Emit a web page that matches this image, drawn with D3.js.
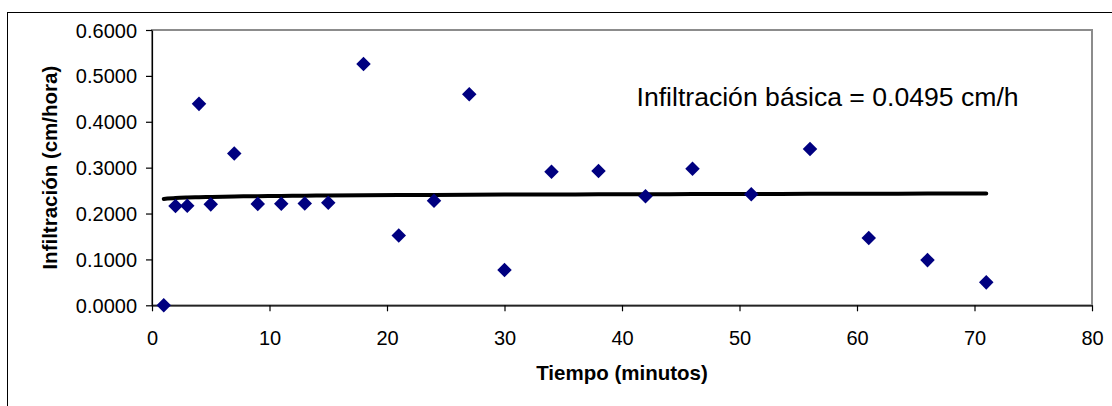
<!DOCTYPE html>
<html>
<head>
<meta charset="utf-8">
<script src="https://cdn.jsdelivr.net/npm/d3@7"></script>
<style>
    body { margin: 0; background: #fff; }
    svg { display: block; font-family: Arial, "Liberation Sans", sans-serif; }
</style>
</head>
<body>
<div class="chart"></div>
<script>
// datos
let tiempo = [1, 2, 3, 4, 5, 7, 9, 11, 13, 15, 18, 21, 24, 27, 30, 34, 38, 42, 46, 51, 56, 61, 66, 71];
let infiltracion = [0.0000, 0.2165, 0.2170, 0.4390, 0.2200, 0.3310, 0.2210, 0.2215, 0.2220, 0.2235,
    0.5260, 0.1520, 0.2280, 0.4600, 0.0770, 0.2910, 0.2925, 0.2375, 0.2975, 0.2420,
    0.3405, 0.1465, 0.0985, 0.0500];
let xTicks = [0, 10, 20, 30, 40, 50, 60, 70, 80];
let yTicks = [0, 0.1, 0.2, 0.3, 0.4, 0.5, 0.6];
// linea de tendencia logaritmica y = a*ln(x) + b
let trendA = 0.00277;
let trendB = 0.2318;
let nota = "Infiltración básica = 0.0495 cm/h";

let W = 1112, H = 406;
let plot = {left: 152, top: 30, right: 1092, bottom: 305.3};

let svg = d3.select(".chart")
    .append("svg")
    .attr("width", W)
    .attr("height", H)

// borde exterior (se sale por la derecha y abajo)
svg.append("rect")
    .attr("x", 7.5).attr("y", 12.5)
    .attr("width", 1200).attr("height", 500)
    .attr("fill", "none")
    .attr("stroke", "#000")
    .attr("stroke-width", 1)

let x = d3.scaleLinear().domain([0, 80]).range([plot.left, plot.right]);
let y = d3.scaleLinear().domain([0, 0.6]).range([plot.bottom, plot.top]);

// area del grafico, borde gris
svg.append("rect")
    .attr("x", plot.left).attr("y", plot.top)
    .attr("width", plot.right - plot.left)
    .attr("height", plot.bottom - plot.top)
    .attr("fill", "#fff")
    .attr("stroke", "#8c8c8c")
    .attr("stroke-width", 2)

let xAxis = svg.append("g")
    .attr("transform", "translate(0," + plot.bottom + ")")
    .call(d3.axisBottom(x).tickValues(xTicks).tickSize(6).tickSizeOuter(0).tickFormat(d3.format("d")))
xAxis.selectAll("text")
    .attr("y", 39.7).attr("dy", 0)
    .attr("font-size", 20).attr("fill", "#000")

let yAxis = svg.append("g")
    .attr("transform", "translate(" + plot.left + ",0)")
    .call(d3.axisLeft(y).tickValues(yTicks).tickSize(6).tickSizeOuter(0).tickFormat(d3.format(".4f")))
yAxis.selectAll("text")
    .attr("x", -15).attr("dy", "0.35em")
    .attr("font-size", 20).attr("fill", "#000")

svg.selectAll(".domain, .tick line").attr("stroke", "#000").attr("stroke-width", 1.2)

// tendencia
let trend = tiempo.map(t => ({t: t, v: trendA * Math.log(t) + trendB}));
svg.append("path")
    .datum(trend)
    .attr("fill", "none")
    .attr("stroke", "#000")
    .attr("stroke-width", 4)
    .attr("stroke-linecap", "round")
    .attr("d", d3.line().x(d => x(d.t)).y(d => y(d.v)).curve(d3.curveMonotoneX))

// puntos (rombos)
svg.selectAll(".punto")
    .data(tiempo)
    .enter()
    .append("path")
    .attr("class", "punto")
    .attr("d", d3.symbol().type(d3.symbolSquare).size(106))
    .attr("transform", (d, i) => "translate(" + x(d) + "," + y(infiltracion[i]) + ") rotate(45)")
    .attr("fill", "#000080")

// titulos de ejes
svg.append("text")
    .attr("x", (plot.left + plot.right) / 2)
    .attr("y", 379.5)
    .attr("text-anchor", "middle")
    .attr("font-weight", "bold")
    .attr("font-size", 20.5)
    .text("Tiempo (minutos)")

svg.append("text")
    .attr("transform", "translate(56.7," + (plot.top + plot.bottom) / 2 + ") rotate(-90)")
    .attr("text-anchor", "middle")
    .attr("font-weight", "bold")
    .attr("font-size", 20.5)
    .text("Infiltración (cm/hora)")

svg.append("text")
    .attr("x", 636.5)
    .attr("y", 106)
    .attr("font-size", 26.6)
    .text(nota)
</script>
</body>
</html>
